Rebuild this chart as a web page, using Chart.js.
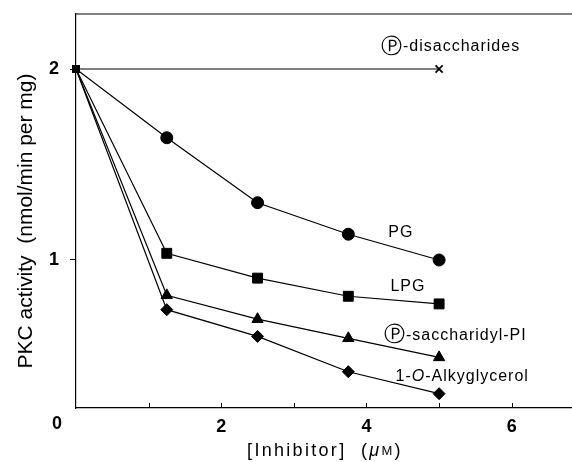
<!DOCTYPE html>
<html>
<head>
<meta charset="utf-8">
<script src="https://cdn.jsdelivr.net/npm/chart.js@4"></script>
<style>
  html, body { margin: 0; padding: 0; background: #fff; }
  #wrap { width: 572px; height: 462px; }
</style>
</head>
<body>
<div id="wrap"><canvas id="pkcChart" width="572" height="462"></canvas></div>
<script>
// inhibitor concentration (uM)
const inhibitor = [0, 1.25, 2.5, 3.75, 5];
const pgValues = [2, 1.64, 1.30, 1.135, 1.0];
const lpgValues = [2, 1.035, 0.905, 0.81, 0.77];
const saccharidylPIValues = [2, 0.815, 0.69, 0.59, 0.49];
const alkylglycerolValues = [2, 0.74, 0.60, 0.415, 0.30];
const disaccharideX = [0, 5];
const disaccharideValues = [2, 2];
const yTicks = [1, 2];
const xTickLabels = [2, 4, 6];
const xMinorTicks = [1, 2, 3, 4, 5, 6];

const FONT = "'Liberation Sans', Arial, Helvetica, sans-serif";

function toPoints(xs, ys) {
  return xs.map((x, i) => ({x: x, y: ys[i]}));
}

function series(label, ys, style, radius) {
  return {
    label: label,
    data: toPoints(inhibitor, ys),
    borderColor: '#000',
    backgroundColor: '#000',
    borderWidth: 1.2,
    pointStyle: style,
    pointRadius: [0, radius, radius, radius, radius],
    pointBorderWidth: 1,
    tension: 0
  };
}

function noPadding(s) {
  s.paddingTop = 0;
  s.paddingBottom = 0;
  s.paddingLeft = 0;
  s.paddingRight = 0;
}

// pieces are [text, style, size]; drawn left to right
function piecesWidth(ctx, pieces) {
  let w = 0;
  pieces.forEach(p => {
    ctx.font = p[1] + ' ' + p[2] + 'px ' + FONT;
    w += ctx.measureText(p[0]).width;
  });
  return w;
}
function drawPieces(ctx, pieces, x, y) {
  pieces.forEach(p => {
    ctx.font = p[1] + ' ' + p[2] + 'px ' + FONT;
    ctx.fillText(p[0], x, y);
    x += ctx.measureText(p[0]).width;
  });
}

const pkcExtras = {
  id: 'pkcExtras',
  afterDraw(chart) {
    const ctx = chart.ctx;
    const xs = chart.scales.x, ys = chart.scales.y;
    const area = chart.chartArea;
    ctx.save();
    ctx.strokeStyle = '#000';
    ctx.fillStyle = '#000';
    ctx.lineWidth = 1.2;
    // top frame line
    ctx.beginPath();
    ctx.moveTo(area.left, area.top);
    ctx.lineTo(area.right, area.top);
    ctx.stroke();
    // inward x ticks
    ctx.lineWidth = 1;
    xMinorTicks.forEach(v => {
      const px = Math.round(xs.getPixelForValue(v)) + 0.5;
      ctx.beginPath();
      ctx.moveTo(px, area.bottom);
      ctx.lineTo(px, area.bottom - 5);
      ctx.stroke();
    });
    // start marker (square)
    const sx = xs.getPixelForValue(inhibitor[0]);
    const sy = ys.getPixelForValue(pgValues[0]);
    ctx.fillRect(sx - 4, sy - 4, 8, 8);
    // origin label
    ctx.font = 'bold 18px ' + FONT;
    ctx.textAlign = 'center';
    ctx.textBaseline = 'middle';
    ctx.fillText('0', area.left - 19, area.bottom + 16);
    // x axis title
    ctx.textAlign = 'left';
    ctx.letterSpacing = '2.3px';
    const xTitle = [['[Inhibitor]  (', '', 18], ['\u03BC', 'italic', 18], ['M', '', 13], [')', '', 18]];
    const w = piecesWidth(ctx, xTitle);
    drawPieces(ctx, xTitle, 325 - w / 2, 451);
    // y axis title, narrow letters like the print
    ctx.letterSpacing = '0px';
    ctx.textAlign = 'center';
    ctx.font = '21px ' + FONT;
    const yTitle = 'PKC activity  (nmol/min per mg)';
    const yw = ctx.measureText(yTitle).width;
    ctx.save();
    ctx.translate(26, 221);
    ctx.rotate(-Math.PI / 2);
    ctx.scale(295 / yw, 1);
    ctx.fillText(yTitle, 0, 0);
    ctx.restore();
    // series labels
    ctx.letterSpacing = '1px';
    ctx.textAlign = 'left';
    const labels = [
      [[['\u24C5', '', 21], ['-disaccharides', '', 16]], 4.20, 2.115],
      [[['PG', '', 16]], 4.30, 1.141],
      [[['LPG', '', 16]], 4.33, 0.859],
      [[['\u24C5', '', 21], ['-saccharidyl-PI', '', 16]], 4.24, 0.605],
      [[['1-', '', 16], ['O', 'italic', 16], ['-Alkyglycerol', '', 16]], 4.40, 0.39]
    ];
    labels.forEach(l => {
      drawPieces(ctx, l[0], xs.getPixelForValue(l[1]), ys.getPixelForValue(l[2]));
    });
    ctx.restore();
  }
};

new Chart(document.getElementById('pkcChart'), {
  type: 'line',
  data: {
    datasets: [
      {
        label: 'P-disaccharides',
        data: toPoints(disaccharideX, disaccharideValues),
        borderColor: '#000',
        backgroundColor: '#000',
        borderWidth: 1.2,
        pointStyle: 'crossRot',
        pointRadius: [0, 5],
        pointBorderWidth: 1.8,
        tension: 0
      },
      series('PG', pgValues, 'circle', 6),
      series('LPG', lpgValues, 'rect', 7),
      series('P-saccharidyl-PI', saccharidylPIValues, 'triangle', 6.5),
      series('1-O-Alkyglycerol', alkylglycerolValues, 'rectRot', 6)
    ]
  },
  options: {
    responsive: false,
    animation: false,
    layout: { autoPadding: false, padding: { top: 14, left: 0, right: 0, bottom: 0 } },
    plugins: { legend: { display: false }, tooltip: { enabled: false } },
    scales: {
      x: {
        type: 'linear',
        min: 0,
        max: 6.83,
        afterFit(s) { s.height = 54; noPadding(s); },
        afterBuildTicks(s) { s.ticks = xTickLabels.map(v => ({value: v})); },
        grid: { display: false, drawTicks: false },
        border: { display: true, color: '#000', width: 1.2 },
        ticks: {
          color: '#000',
          padding: 8,
          maxRotation: 0,
          font: { family: FONT, size: 18, weight: 'bold' }
        }
      },
      y: {
        type: 'linear',
        min: 0.225,
        max: 2.288,
        afterFit(s) { s.width = 76; noPadding(s); },
        afterBuildTicks(s) { s.ticks = yTicks.map(v => ({value: v})); },
        grid: { drawOnChartArea: false, drawTicks: true, tickLength: 6, color: '#000' },
        border: { display: true, color: '#000', width: 1.2 },
        ticks: {
          color: '#000',
          padding: 11,
          font: { family: FONT, size: 18, weight: 'bold' }
        }
      }
    }
  },
  plugins: [pkcExtras]
});
</script>
</body>
</html>
